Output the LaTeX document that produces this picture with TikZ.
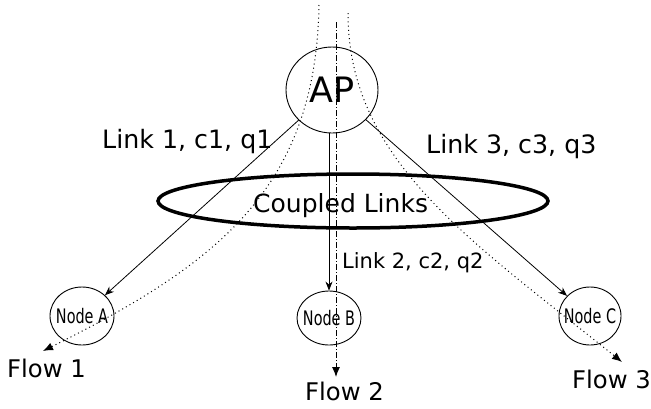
\documentclass[tikz,border=0pt]{standalone}
\usepackage{fontspec}
\setmainfont{DejaVu Sans}
\usetikzlibrary{arrows.meta,shapes.geometric}

\tikzset{
  station/.style={ellipse, draw, line width=0.9pt, inner sep=0pt},
  linkarrow/.style={line width=0.8pt, -{Stealth[length=9pt,width=7pt]}},
  flowdot/.style={line width=1pt, dash pattern=on 1pt off 3.2pt, -{Latex[length=10pt,width=8pt]}},
  flowdashdot/.style={line width=1pt, dash pattern=on 6pt off 2pt on 1pt off 2pt, -{Latex[length=10pt,width=8pt]}},
  biglabel/.style={font=\fontsize{25.3}{25.3}\selectfont, inner sep=0pt, anchor=base west},
  flowlabel/.style={font=\fontsize{24.3}{24.3}\selectfont, inner sep=0pt, anchor=base west},
  nodetext/.style={font=\fontsize{20}{20}\selectfont, inner sep=0pt},
}
\newcommand{\narrow}[1]{\scalebox{0.72}[1]{#1}}

\begin{document}
\begin{tikzpicture}[x=1pt, y=-1pt]
  \useasboundingbox (0,0) rectangle (651,408);

  % access point and the three receiving nodes
  \node[station, minimum width=92pt, minimum height=86pt,
        font=\fontsize{35}{35}\selectfont] (AP) at (332,90) {AP};
  \node[station, minimum width=64pt, minimum height=58pt,
        label={[nodetext]center:\narrow{Node A}}] (A) at (82,316) {};
  \node[station, minimum width=64pt, minimum height=54pt,
        label={[nodetext]center:\narrow{Node B}}] (B) at (329,318) {};
  \node[station, minimum width=62pt, minimum height=58pt,
        label={[nodetext]center:\narrow{Node C}}] (C) at (590,316) {};

  % coupled-links ring
  \node[ellipse, draw, line width=3.5pt, minimum width=390pt, minimum height=54pt,
        inner sep=0pt] (ring) at (353,201) {};
  \node[font=\fontsize{25}{25}\selectfont, inner sep=0pt, anchor=base west]
        (ringtext) at (253,212) {Coupled Links};

  % wireless links
  \draw[linkarrow] (AP) -- (A);
  \draw[linkarrow] (B.north |- AP.south) -- (B.north);
  \draw[linkarrow] (AP) -- (C);

  % link labels
  \node[biglabel] (l1) at (102,148) {Link 1, c1, q1};
  \node[biglabel] (l3) at (426,153) {Link 3, c3, q3};
  \node[font=\fontsize{21}{21}\selectfont, inner sep=0pt, anchor=base west]
        (l2) at (342,268) {Link 2, c2, q2};

  % traffic flows
  \coordinate (f1s) at (319,5);
  \coordinate (f1e) at (43,351);
  \coordinate (f2s) at (336,22);
  \coordinate (f2e) at (336,377);
  \coordinate (f3s) at (348,13);
  \coordinate (f3e) at (622,362);
  \draw[flowdot] (f1s) .. controls (316,190) and (215,265) .. (f1e);
  \draw[flowdashdot] (f2s) -- (f2e);
  \draw[flowdot] (f3s) .. controls (348,160) and (470,240) .. (f3e);

  % flow labels
  \node[flowlabel] (fl1) at (7,377) {Flow 1};
  \node[flowlabel] (fl2) at (305,400) {Flow 2};
  \node[flowlabel] (fl3) at (572,388) {Flow 3};
\end{tikzpicture}
\end{document}
